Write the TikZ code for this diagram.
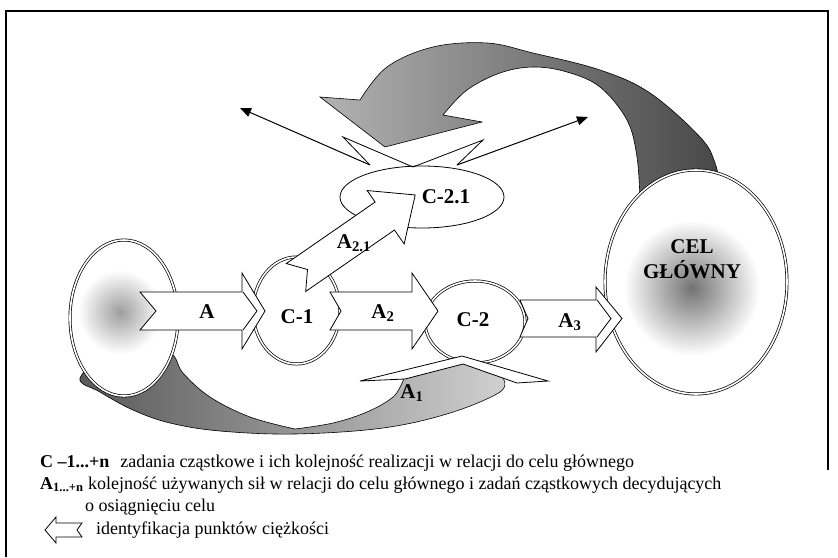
\documentclass[tikz,border=0pt]{standalone}
\usepackage{fontspec}
\setmainfont{Liberation Serif}
\usetikzlibrary{arrows.meta}
\begin{document}
\begin{tikzpicture}[x=1pt,y=-1pt,
  lbl/.style={font=\fontsize{21}{25}\selectfont\bfseries, inner sep=0pt},
  dbl/.style={draw=black, line width=0.7pt, double=white, double distance=1.6pt},
  blk/.style={draw=black, line width=0.8pt, fill=white, line join=miter},
  thinarrow/.style={draw=black, line width=1pt, -{Triangle[length=11pt,width=9pt]}},
  leg/.style={font=\fontsize{18}{20}\selectfont, anchor=west, inner sep=0pt},
]
\useasboundingbox (0,0) rectangle (838,557);
\fill[white] (0,0) rectangle (838,557);
% frame
\draw[line width=1.3pt] (6,557) -- (6,11) -- (828,11) -- (828,470);

% ---- top curved gray arrow
\shadedraw[draw=black, line width=0.6pt, left color=black!30, right color=black!72]
  (320,97) -- (385,147) -- (482,122) -- (443,115)
  -- plot[smooth, tension=0.6] coordinates {(443,115) (467,90) (500,73) (533,67) (567,72) (600,87) (627,120) (637,157) (640,200)}
  -- (722,195)
  -- plot[smooth, tension=0.6] coordinates {(722,195) (715,163) (700,137) (650,93) (600,70) (533,53) (487,43) (433,47) (387,67) (360,100)}
  -- cycle;

% ---- bottom curved gray arrow
\shadedraw[draw=black, line width=0.6pt, left color=black!65, right color=black!18]
  plot[smooth, tension=0.6] coordinates {(110,350) (80,378) (100,392) (133,410) (170,423) (220,431) (295,434) (383,428) (450,413) (500,392) (503,378)}
  -- (470,360) -- (405,375)
  -- plot[smooth, tension=0.6] coordinates {(405,375) (403,381) (393,397) (367,412) (333,423) (295,429)}
  -- plot[smooth, tension=0.6] coordinates {(295,429) (250,417) (210,397) (183,373) (173,355) (150,340)}
  -- cycle;

% ---- left ellipse
\coordinate (L) at (124,318);
\fill[white] (L) ellipse [x radius=54pt, y radius=78pt];
\begin{scope}
  \clip (L) ellipse [x radius=54pt, y radius=78pt];
  \shade[inner color=black!38, outer color=white] (120,312) circle (42pt);
\end{scope}
\draw[dbl] (L) ellipse [x radius=54pt, y radius=78pt];

% ---- goal ellipse
\coordinate (G) at (696,282);
\fill[white] (G) ellipse [x radius=91pt, y radius=112pt];
\begin{scope}
  \clip (G) ellipse [x radius=91pt, y radius=112pt];
  \shade[inner color=black!55, outer color=white] (692,288) circle (68pt);
\end{scope}
\draw[dbl] (G) ellipse [x radius=91pt, y radius=112pt];

% ---- sub-task circles
\coordinate (C1) at (296.5,310.5);
\coordinate (C2) at (475,322);
\coordinate (C21) at (422,197);
\draw[dbl, fill=white] (C1) ellipse [x radius=43.5pt, y radius=53.5pt];
\draw[dbl, fill=white] (C2) ellipse [x radius=50pt, y radius=41pt];
\draw[line width=0.8pt, fill=white] (C21) ellipse [x radius=82pt, y radius=31pt];

% ---- wedges and thin arrows above C-2.1
\coordinate (wl) at (370,165);
\coordinate (wr) at (457,165);
\coordinate (tl) at (240,108);
\coordinate (tr) at (588,117);
\draw[line width=0.8pt, line join=miter] (wl) -- (343,137) -- (413,167) -- (483,140) -- (wr);
\draw[thinarrow] (wl) -- (tl);
\draw[thinarrow] (wr) -- (tr);

% ---- block arrows
% A
\draw[blk] (140,292) -- (242,292) -- (242,273) -- (265,311) -- (242,349) -- (242,330) -- (140,330) -- (156,311) -- cycle;
\draw[line width=0.8pt] (243,292) -- (257,311) -- (243,330);
% A2
\draw[blk] (330,292) -- (412,292) -- (412,273) -- (438,311) -- (412,349) -- (412,330) -- (330,330) -- (341,311) -- cycle;
% A3
\draw[blk] (520,300) -- (596,300) -- (596,287) -- (622,318.5) -- (596,352) -- (596,337) -- (520,337) -- (528,318.5) -- cycle;
\draw[line width=0.8pt] (597,300) -- (611,318.5) -- (597,337);
% A2.1
\begin{scope}[shift={(296,277.5)}, rotate=34.7]
  \draw[blk] (0,-17) -- (108,-17) -- (108,-31) -- (145,0) -- (108,34) -- (108,17) -- (0,17) -- (14,0) -- cycle;
\end{scope}
% A1 arrowhead
\draw[blk] (360,381) -- (462,356) -- (548,381) -- (517,383) -- (463,364) -- (405,379) -- cycle;

% ---- labels
\node[lbl] (lA) at (207,312) {A};
\node[lbl] (lC1) at (297,317) {C-1};
\node[lbl] (lA2) at (383,313) {A\textsubscript{2}};
\node[lbl] (lC2) at (473,320) {C-2};
\node[lbl] (lA3) at (570,322) {A\textsubscript{3}};
\node[lbl] (lA21) at (354,243) {A\textsubscript{2.1}};
\node[lbl] (lC21) at (446,197) {C-2.1};
\node[lbl] (lA1) at (412,393) {A\textsubscript{1}};
\node[lbl, align=center] (cel) at (692,259) {CEL\\GŁÓWNY};

% ---- legend
\node[leg] (l1) at (40,463) {\textbf{C –1...+n}\hspace{0.35em} zadania cząstkowe i ich kolejność realizacji w relacji do celu głównego};
\node[leg] (l2) at (40,485) {\textbf{A\textsubscript{1...+n}} kolejność używanych sił w relacji do celu głównego i zadań cząstkowych decydujących};
\node[leg] (l3) at (85,507) {o osiągnięciu celu};
\draw[line width=0.8pt, line join=miter] (45,530) -- (56,517) -- (56,523) -- (82,523) -- (77,530) -- (82,537) -- (56,537) -- (56,543) -- cycle;
\node[leg] (l4) at (96,530) {identyfikacja punktów ciężkości};
\end{tikzpicture}
\end{document}
